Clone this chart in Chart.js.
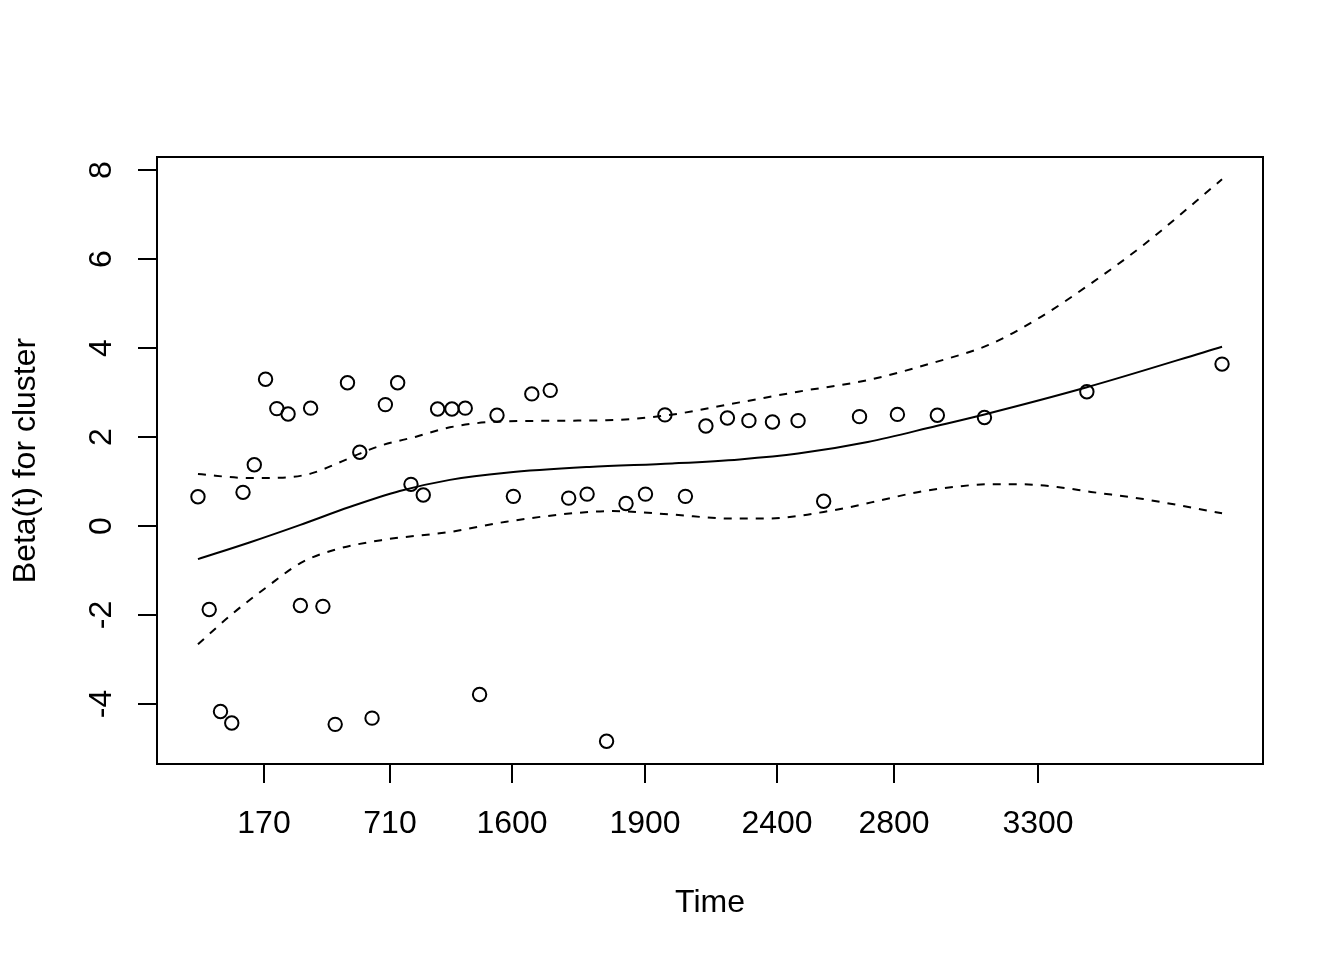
<!DOCTYPE html>
<html>
<head>
<meta charset="utf-8">
<script src="https://cdn.jsdelivr.net/npm/chart.js@4/dist/chart.umd.min.js"></script>
<style>
	html, body { margin: 0; padding: 0; background: #fff; }
	canvas { display: block; }
</style>
</head>
<body>
<canvas id="chart" width="1344" height="960"></canvas>
<script>
// DATA (x = transformed time, 0..1)
const timeX = [0.000, 0.011, 0.022, 0.033, 0.044, 0.055, 0.066, 0.077, 0.088, 0.100,
	0.110, 0.122, 0.134, 0.146, 0.158, 0.170, 0.183, 0.195, 0.208, 0.220,
	0.234, 0.248, 0.261, 0.275, 0.292, 0.308, 0.326, 0.344, 0.362, 0.380,
	0.399, 0.418, 0.437, 0.456, 0.476, 0.496, 0.517, 0.538, 0.561, 0.586,
	0.611, 0.646, 0.683, 0.722, 0.768, 0.868, 1.000];
const betaResid = [0.66, -1.87, -4.16, -4.42, 0.76, 1.38, 3.30, 2.64, 2.52, -1.78,
	2.65, -1.80, -4.45, 3.22, 1.66, -4.31, 2.73, 3.22, 0.94, 0.70,
	2.63, 2.63, 2.65, -3.78, 2.49, 0.67, 2.97, 3.05, 0.63, 0.72,
	-4.83, 0.51, 0.72, 2.50, 0.67, 2.25, 2.43, 2.37, 2.34, 2.37,
	0.56, 2.46, 2.51, 2.49, 2.44, 3.02, 3.64];

const fitX = [0.000, 0.051, 0.100, 0.148, 0.197, 0.246, 0.301, 0.382, 0.463, 0.529, 0.586, 0.654, 0.721, 0.768, 0.868, 1.000];
const fitY = [-0.74, -0.36, 0.03, 0.43, 0.79, 1.04, 1.20, 1.33, 1.41, 1.50, 1.63, 1.89, 2.25, 2.51, 3.12, 4.03];

const upperX = [0.000, 0.051, 0.083, 0.110, 0.136, 0.158, 0.180, 0.213, 0.246, 0.295, 0.399, 0.458, 0.529, 0.586, 0.654, 0.721, 0.772, 0.821, 0.872, 0.923, 1.000];
const upperY = [1.17, 1.08, 1.09, 1.18, 1.41, 1.63, 1.82, 2.01, 2.22, 2.35, 2.38, 2.49, 2.78, 3.02, 3.28, 3.69, 4.07, 4.67, 5.45, 6.31, 7.79];

const lowerX = [0.000, 0.034, 0.067, 0.100, 0.132, 0.180, 0.246, 0.301, 0.366, 0.405, 0.463, 0.522, 0.553, 0.586, 0.611, 0.637, 0.670, 0.704, 0.738, 0.771, 0.805, 0.839, 0.872, 0.923, 1.000];
const lowerY = [-2.65, -1.96, -1.37, -0.83, -0.54, -0.31, -0.13, 0.10, 0.29, 0.34, 0.26, 0.17, 0.17, 0.23, 0.32, 0.43, 0.60, 0.77, 0.88, 0.94, 0.94, 0.88, 0.77, 0.61, 0.29];

const xTickPos = [0.064, 0.188, 0.307, 0.437, 0.565, 0.680, 0.820];
const xTickLabels = ["170", "710", "1600", "1900", "2400", "2800", "3300"];
const yTicks = [-4, -2, 0, 2, 4, 6, 8];

const FONT = '32px "Liberation Sans", Arial, Helvetica, sans-serif';

const toXY = (xs, ys) => xs.map((x, i) => ({ x, y: ys[i] }));

// R-style frame, ticks and labels
const baseAxes = {
	id: "baseAxes",
	afterDraw(chart) {
		const { ctx, chartArea: a, scales } = chart;
		const xs = scales.x, ys = scales.y;
		ctx.save();
		ctx.strokeStyle = "#000";
		ctx.fillStyle = "#000";
		ctx.lineWidth = 2;
		ctx.strokeRect(a.left, a.top, a.right - a.left, a.bottom - a.top);
		ctx.font = FONT;

		// x axis
		ctx.textAlign = "center";
		ctx.textBaseline = "alphabetic";
		xTickPos.forEach((v, i) => {
			const px = Math.round(xs.getPixelForValue(v));
			ctx.beginPath();
			ctx.moveTo(px, a.bottom);
			ctx.lineTo(px, a.bottom + 19);
			ctx.stroke();
			ctx.fillText(xTickLabels[i], px, 833);
		});
		ctx.fillText("Time", (a.left + a.right) / 2, 912);

		// y axis
		yTicks.forEach((v) => {
			const py = Math.round(ys.getPixelForValue(v));
			ctx.beginPath();
			ctx.moveTo(a.left - 19, py);
			ctx.lineTo(a.left, py);
			ctx.stroke();
			ctx.save();
			ctx.translate(111, py);
			ctx.rotate(-Math.PI / 2);
			ctx.fillText(String(v), 0, 0);
			ctx.restore();
		});
		ctx.save();
		ctx.translate(35, (a.top + a.bottom) / 2);
		ctx.rotate(-Math.PI / 2);
		ctx.fillText("Beta(t) for cluster", 0, 0);
		ctx.restore();
		ctx.restore();
	},
};

const lineSet = (data, dash) => ({
	data,
	showLine: true,
	pointRadius: 0,
	borderColor: "#000",
	borderWidth: 2,
	borderDash: dash,
	cubicInterpolationMode: "monotone",
	fill: false,
});

new Chart(document.getElementById("chart").getContext("2d"), {
	type: "scatter",
	data: {
		datasets: [
			{
				data: toXY(timeX, betaResid),
				pointStyle: "circle",
				pointRadius: 6.7,
				borderWidth: 2,
				borderColor: "#000",
				backgroundColor: "rgba(0,0,0,0)",
			},
			lineSet(toXY(fitX, fitY), []),
			lineSet(toXY(upperX, upperY), [8, 8]),
			lineSet(toXY(lowerX, lowerY), [8, 8]),
		],
	},
	options: {
		responsive: false,
		devicePixelRatio: 1,
		animation: false,
		layout: { padding: { left: 157, right: 81, top: 157, bottom: 196 } },
		plugins: { legend: { display: false }, tooltip: { enabled: false } },
		scales: {
			x: { type: "linear", min: -0.04, max: 1.04, display: false },
			y: { type: "linear", min: -5.34, max: 8.29, display: false },
		},
	},
	plugins: [baseAxes],
});
</script>
</body>
</html>
